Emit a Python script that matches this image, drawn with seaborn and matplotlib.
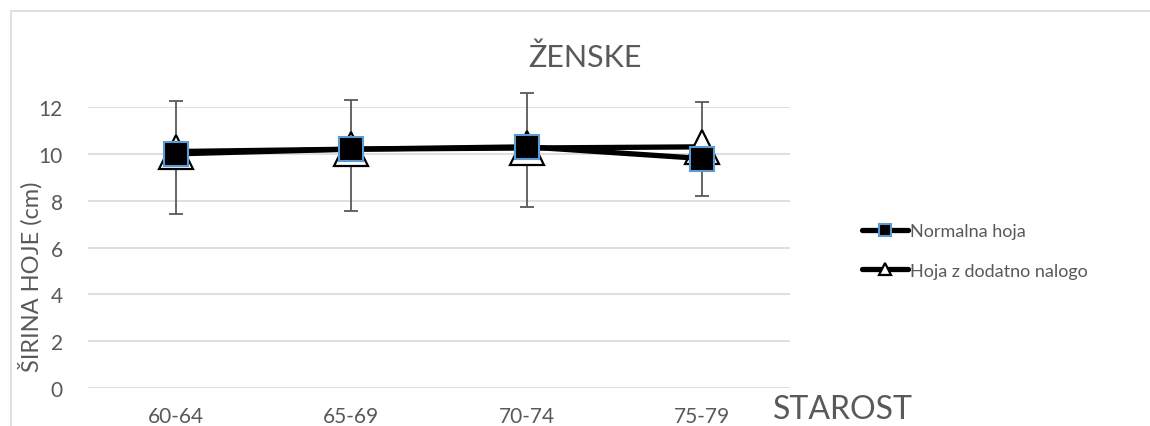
import pandas as pd
import seaborn as sns
import matplotlib.pyplot as plt
from matplotlib.patches import Rectangle

# age groups and mean step width (cm)
starost = ['60-64', '65-69', '70-74', '75-79']
normalna = [10.0, 10.2, 10.3, 9.8]
dodatna = [10.1, 10.2, 10.25, 10.3]
# error bar ends
err_low = [7.43, 7.55, 7.73, 8.2]
err_high = [12.25, 12.3, 12.6, 12.2]

sns.set_style('white')
plt.rcParams['font.family'] = ['Lato', 'DejaVu Sans']
grey = '#595959'

df = pd.DataFrame({'starost': starost, 'normalna': normalna, 'dodatna': dodatna})

fig = plt.figure(figsize=(11.5, 4.27), dpi=100)
fig.patches.append(Rectangle((0.0096, -0.01), 1.0, 0.982, transform=fig.transFigure,
                             fill=False, edgecolor='#d9d9d9', linewidth=1.2))
ax = fig.add_axes([0.0765, 0.089, 0.6105, 0.658])

x = list(range(len(starost)))
yerr = [[n - lo for n, lo in zip(normalna, err_low)],
        [hi - n for n, hi in zip(normalna, err_high)]]
eb = ax.errorbar(x, normalna, yerr=yerr, fmt='none', ecolor=grey, elinewidth=1.3,
                 capsize=5, capthick=1.3, zorder=2)
for art in eb.lines[1] + eb.lines[2]:
    art.set_clip_on(False)

sns.lineplot(data=df, x=x, y='dodatna', ax=ax, color='black', linewidth=3.8,
             marker='^', markersize=24, markerfacecolor='white',
             markeredgecolor='black', markeredgewidth=1.6,
             label='Hoja z dodatno nalogo', zorder=3)
sns.lineplot(data=df, x=x, y='normalna', ax=ax, color='black', linewidth=3.8,
             marker='s', markersize=17, markerfacecolor='black',
             markeredgecolor='#5b9bd5', markeredgewidth=1.5,
             label='Normalna hoja', zorder=4)

ax.set_xlim(-0.5, 3.5)
ax.set_ylim(0, 12)
ax.set_yticks(range(0, 13, 2))
ax.set_xticks(x)
ax.set_xticklabels(starost)
ax.grid(axis='y', color='#d9d9d9', linewidth=1.2)
ax.set_axisbelow(True)
for s in ax.spines.values():
    s.set_visible(False)
ax.tick_params(axis='both', colors=grey, labelsize=15, length=0)
ax.tick_params(axis='x', pad=13)
ax.tick_params(axis='y', pad=18)
ax.set_xlabel('')
ax.set_ylabel('ŠIRINA HOJE (cm)', color=grey, fontsize=17)
ax.yaxis.set_label_coords(-0.064, 0.4)

fig.text(0.509, 0.865, 'ŽENSKE', color=grey, fontsize=22, ha='center', va='center')
fig.text(0.672, 0.04, 'STAROST', color=grey, fontsize=23, ha='left', va='center')

h, l = ax.get_legend_handles_labels()
leg = ax.legend(h[::-1], l[::-1], loc='center left', bbox_to_anchor=(0.735, 0.41),
                bbox_transform=fig.transFigure, frameon=False, fontsize=13,
                handlelength=2.6, handletextpad=0.1, labelspacing=1.3)
for t in leg.get_texts():
    t.set_color(grey)
for hd in leg.legend_handles:
    hd.set_markersize(9)
    hd.set_solid_capstyle('round')

fig.savefig('out.png', dpi=100)
